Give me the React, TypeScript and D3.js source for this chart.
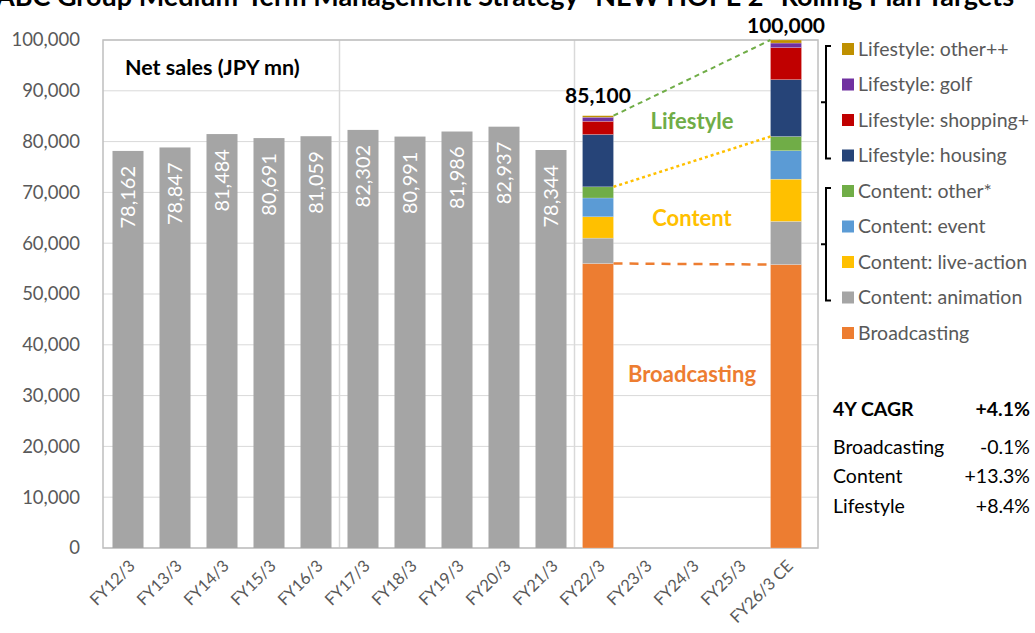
import * as d3 from "d3";

// categories on the x axis
const categories = [
  "FY12/3", "FY13/3", "FY14/3", "FY15/3", "FY16/3", "FY17/3", "FY18/3",
  "FY19/3", "FY20/3", "FY21/3", "FY22/3", "FY23/3", "FY24/3", "FY25/3", "FY26/3 CE",
];

// historic net sales (JPY mn), FY12/3 .. FY21/3
const netSales = [78162, 78847, 81484, 80691, 81059, 82302, 80991, 81986, 82937, 78344];

// stacked segments, bottom to top
const segmentKeys = [
  "Broadcasting",
  "Content: animation",
  "Content: live-action",
  "Content: event",
  "Content: other*",
  "Lifestyle: housing",
  "Lifestyle: shopping+",
  "Lifestyle: golf",
  "Lifestyle: other++",
];
const segmentColors = [
  "#ed7d31", "#a5a5a5", "#ffc000", "#5b9bd5", "#70ad47",
  "#264478", "#c00000", "#7030a0", "#bf9000",
];
const fy22Values = [56000, 5000, 4200, 3700, 2200, 10300, 2600, 800, 300];
const fy26Values = [55800, 8500, 8300, 5600, 2800, 11200, 6300, 900, 600];
const stackedCats = ["FY22/3", "FY26/3 CE"];

const yTicks = [0, 10000, 20000, 30000, 40000, 50000, 60000, 70000, 80000, 90000, 100000];

const cagrTotal = "+4.1%";
const cagrNames = ["Broadcasting", "Content", "Lifestyle"];
const cagrValues = ["-0.1%", "+13.3%", "+8.4%"];

const W = 1035;
const H = 633;
const FONT = "Lato, 'Open Sans', sans-serif";

export default function App() {
  const left = 103, right = 818, top = 40, bottom = 548;

  // bands sit slightly left inside the plot frame, as in the source
  const x = d3.scaleBand().domain(categories).range([104.5, 809.5]).paddingInner(0.34).paddingOuter(0.17);
  const y = d3.scaleLinear().domain([0, 100000]).range([bottom, top]);
  const bw = x.bandwidth();
  const step = x.step();
  const x0 = x.range()[0];
  const fmt = d3.format(",");

  const rows = stackedCats.map((c, i) => {
    const vals = i === 0 ? fy22Values : fy26Values;
    const r: any = { cat: c };
    segmentKeys.forEach((k, j) => (r[k] = vals[j]));
    return r;
  });
  const series = d3.stack().keys(segmentKeys)(rows);

  const x22 = x("FY22/3")! + bw;
  const x26 = x("FY26/3 CE")!;
  const cum = (vals: number[], n: number) => d3.sum(vals.slice(0, n));
  const connectors = [
    { n: 9, color: "#70ad47", dash: "5,4", w: 2 },
    { n: 5, color: "#ffc000", dash: "3,3", w: 2.5 },
    { n: 1, color: "#ed7d31", dash: "9,7", w: 2.5 },
  ];

  const legendKeys = segmentKeys.slice().reverse();
  const legendColors = segmentColors.slice().reverse();
  const legendY = (i: number) => 49 + i * 35.5;

  const midX = (x22 + x26) / 2;

  return (
    <svg width={W} height={H} style={{ position: "absolute", left: 0, top: 0, background: "#fff" }} fontFamily={FONT}>
      {/* title, clipped by the top of the picture */}
      <text x={-4} y={6} fontSize={27} fontWeight="bold" fill="#000">
        ABC Group Medium-Term Management Strategy "NEW HOPE 2" Rolling Plan Targets
      </text>

      {/* gridlines */}
      {yTicks.map((t) => (
        <line key={t} x1={left} x2={right} y1={y(t)} y2={y(t)} stroke="#d9d9d9" strokeWidth={1} />
      ))}
      {[5, 10].map((i) => (
        <line key={i} x1={x0 + i * step} x2={x0 + i * step} y1={top} y2={bottom} stroke="#d9d9d9" strokeWidth={1.5} />
      ))}
      <rect x={left} y={top} width={right - left} height={bottom - top} fill="none" stroke="#bfbfbf" strokeWidth={1.5} />

      {/* y tick labels */}
      {yTicks.map((t) => (
        <text key={t} x={80} y={y(t)} dy="0.35em" textAnchor="end" fontSize={18.5} fill="#595959">
          {fmt(t)}
        </text>
      ))}

      {/* historic bars */}
      {netSales.map((v, i) => (
        <g key={i}>
          <rect x={x(categories[i])} y={y(v)} width={bw} height={y(0) - y(v)} fill="#a5a5a5" />
          <text
            transform={`translate(${x(categories[i])! + bw / 2},${y(v) + 15}) rotate(-90)`}
            textAnchor="end"
            dy="0.35em"
            fontSize={20}
            fill="#fff"
          >
            {fmt(v)}
          </text>
        </g>
      ))}

      {/* stacked plan bars */}
      {series.map((s, j) => (
        <g key={s.key} fill={segmentColors[j]}>
          {s.map((d: any) => (
            <rect
              key={d.data.cat}
              x={x(d.data.cat)}
              y={y(d[1])}
              width={bw}
              height={y(d[0]) - y(d[1])}
              stroke="#fff"
              strokeOpacity={0.4}
              strokeWidth={0.5}
            />
          ))}
        </g>
      ))}

      {/* connectors */}
      {connectors.map((c) => (
        <line
          key={c.n}
          x1={x22}
          y1={y(cum(fy22Values, c.n))}
          x2={x26}
          y2={y(cum(fy26Values, c.n))}
          stroke={c.color}
          strokeWidth={c.w}
          strokeDasharray={c.dash}
        />
      ))}

      {/* totals */}
      <text x={x("FY22/3")! + bw / 2} y={y(d3.sum(fy22Values)) - 13} textAnchor="middle" fontSize={21} fontWeight="bold" fill="#000">
        {fmt(d3.sum(fy22Values))}
      </text>
      <text x={x("FY26/3 CE")! + bw / 2} y={y(d3.sum(fy26Values)) - 7} textAnchor="middle" fontSize={21} fontWeight="bold" fill="#000">
        {fmt(d3.sum(fy26Values))}
      </text>

      {/* segment labels */}
      <text x={midX} y={y(84000)} dy="0.35em" textAnchor="middle" fontSize={22} fontWeight="bold" fill="#70ad47">Lifestyle</text>
      <text x={midX} y={y(65000)} dy="0.35em" textAnchor="middle" fontSize={22} fontWeight="bold" fill="#ffc000">Content</text>
      <text x={midX} y={y(34200)} dy="0.35em" textAnchor="middle" fontSize={22} fontWeight="bold" fill="#ed7d31">Broadcasting</text>

      <text x={125} y={67} dy="0.35em" fontSize={21.5} fontWeight="bold" fill="#000">Net sales (JPY mn)</text>

      {/* x labels */}
      {categories.map((c) => (
        <text
          key={c}
          transform={`translate(${x(c)! + bw / 2 + 4},${563}) rotate(-45)`}
          textAnchor="end"
          dy="0.35em"
          fontSize={16.5}
          fill="#595959"
        >
          {c}
        </text>
      ))}

      {/* legend */}
      {legendKeys.map((k, i) => (
        <g key={k}>
          <rect x={842} y={legendY(i) - 6} width={12} height={12} fill={legendColors[i]} />
          <text x={858} y={legendY(i)} dy="0.35em" fontSize={19.5} fill="#595959">{k}</text>
        </g>
      ))}

      {/* braces */}
      {[[legendY(0) - 3, legendY(3) + 3], [legendY(4) - 3, legendY(7) + 3]].map(([a, b], i) => (
        <path
          key={i}
          d={`M831,${a} L826,${a} L826,${b} L831,${b} M826,${(a + b) / 2} L821,${(a + b) / 2}`}
          fill="none"
          stroke="#000"
          strokeWidth={2}
        />
      ))}

      {/* CAGR */}
      <text x={833} y={409} dy="0.35em" fontSize={19.5} fontWeight="bold" fill="#000">4Y CAGR</text>
      <text x={1030} y={409} dy="0.35em" textAnchor="end" fontSize={19.5} fontWeight="bold" fill="#000">{cagrTotal}</text>
      {cagrNames.map((n, i) => (
        <g key={n}>
          <text x={833} y={447 + i * 29.5} dy="0.35em" fontSize={19.5} fill="#000">{n}</text>
          <text x={1030} y={447 + i * 29.5} dy="0.35em" textAnchor="end" fontSize={19.5} fill="#000">{cagrValues[i]}</text>
        </g>
      ))}
    </svg>
  );
}
